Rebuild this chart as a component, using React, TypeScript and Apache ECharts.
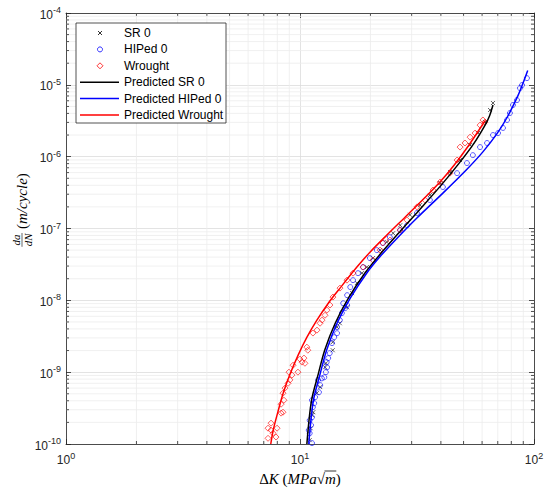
import React, { useEffect, useRef } from "react";
import * as echarts from "echarts";

const X_MIN = 1;
const X_MAX = 100;
const Y_MIN = 1e-10;
const Y_MAX = 1e-4;

const xMinorTicks = [2, 3, 4, 5, 6, 7, 8, 9, 20, 30, 40, 50, 60, 70, 80, 90];
const yDecades = [-10, -9, -8, -7, -6, -5];
const minorMultipliers = [2, 3, 4, 5, 6, 7, 8, 9];

const legendNames = [
  "SR 0",
  "HIPed 0",
  "Wrought",
  "Predicted SR 0",
  "Predicted HIPed 0",
  "Predicted Wrought",
];

// [ΔK (MPa√m), da/dN (m/cycle)]
const sr0Data: [number, number][] = [
  [11.0, 1.13e-10], [11.1, 1.66e-10], [11.25, 2.52e-10], [11.4, 2.77e-10],
  [11.8, 5.1e-10], [12.2, 6.2e-10], [12.8, 1.17e-9], [12.9, 1.33e-9],
  [13.8, 2.02e-9], [13.8, 2.62e-9], [14.4, 4.24e-9], [14.8, 4.8e-9],
  [15.9, 8.0e-9], [16.7, 1.26e-8], [17.5, 1.74e-8], [18.4, 2.39e-8],
  [19.3, 2.9e-8], [20.5, 3.87e-8], [22.0, 5.0e-8], [23.5, 6.47e-8],
  [25.0, 8.6e-8], [26.8, 1.11e-7], [29.5, 1.55e-7], [32.6, 2.12e-7],
  [35.9, 2.92e-7], [39.7, 4.29e-7], [43.8, 6.1e-7], [48.3, 8.97e-7],
  [53.3, 1.45e-6], [57.6, 2.13e-6], [61.8, 3.03e-6], [64.9, 4.46e-6],
  [66.8, 5.58e-6],
];

const hiped0Data: [number, number][] = [
  [11.25, 1.03e-10], [11.0, 1.41e-10], [10.9, 1.56e-10], [11.15, 1.83e-10],
  [11.0, 2.14e-10], [11.25, 2.36e-10], [11.35, 3.26e-10], [11.5, 3.7e-10],
  [11.25, 4.07e-10], [11.6, 4.49e-10], [12.05, 5.26e-10], [12.2, 6.6e-10],
  [11.95, 7.8e-10], [12.4, 8.2e-10], [12.7, 8.5e-10], [12.9, 1.0e-9],
  [13.05, 1.17e-9], [13.0, 1.38e-9], [13.2, 1.57e-9], [13.4, 1.84e-9],
  [13.7, 2.54e-9], [14.0, 3.07e-9], [14.4, 3.49e-9], [14.4, 4.24e-9],
  [14.8, 5.3e-9], [15.1, 6.64e-9], [15.6, 7.8e-9], [15.9, 8.57e-9],
  [15.3, 9.1e-9], [15.9, 1.18e-8], [16.4, 1.53e-8], [16.85, 1.91e-8],
  [17.7, 2.39e-8], [18.6, 2.9e-8], [19.9, 3.87e-8], [21.3, 5.0e-8],
  [22.6, 6.27e-8], [24.2, 7.59e-8], [26.8, 9.5e-8], [28.7, 1.11e-7],
  [31.6, 1.64e-7], [35.9, 2.49e-7], [40.8, 3.78e-7], [46.9, 5.9e-7],
  [51.7, 8.15e-7], [54.8, 1.05e-6], [58.8, 1.36e-6], [63.0, 1.55e-6],
  [66.8, 2.0e-6], [70.2, 2.13e-6], [73.7, 2.51e-6], [76.7, 3.24e-6],
  [78.9, 4.05e-6], [81.3, 5.24e-6], [84.6, 6.14e-6], [87.1, 9.0e-6],
  [88.9, 9.93e-6], [93.3, 1.24e-5],
];

const wroughtData: [number, number][] = [
  [7.3, 1.2e-10], [7.9, 1.25e-10], [7.3, 1.66e-10], [7.98, 1.66e-10],
  [7.52, 1.56e-10], [7.67, 1.41e-10], [7.52, 1.95e-10], [8.3, 2.69e-10],
  [8.46, 2.77e-10], [8.3, 3.58e-10], [8.54, 4.07e-10], [8.46, 5.1e-10],
  [8.63, 6.0e-10], [8.89, 7.0e-10], [9.06, 7.8e-10], [9.24, 9.1e-10],
  [8.97, 1.0e-9], [9.34, 1.25e-9], [9.8, 1.0e-9], [10.0, 1.52e-9],
  [10.2, 1.38e-9], [10.5, 1.33e-9], [10.4, 1.57e-9], [10.7, 2.23e-9],
  [10.8, 2.02e-9], [11.36, 3.5e-9], [11.82, 3.85e-9], [12.18, 4.8e-9],
  [12.42, 5.3e-9], [12.79, 6.2e-9], [13.04, 7.3e-9], [13.43, 8.6e-9],
  [13.83, 1.11e-8], [14.82, 1.48e-8], [15.88, 1.91e-8], [16.85, 2.39e-8],
  [18.59, 2.9e-8], [20.51, 3.63e-8], [21.98, 5.0e-8], [22.6, 6.3e-8],
  [24.24, 6.9e-8], [26.76, 9.5e-8], [28.66, 1.31e-7], [31.62, 2.0e-7],
  [34.2, 2.49e-7], [37.0, 3.43e-7], [39.66, 4.43e-7], [43.75, 5.9e-7],
  [46.9, 8.97e-7], [48.3, 1.36e-6], [50.7, 1.55e-6], [53.3, 1.87e-6],
  [56.0, 2.13e-6], [58.8, 2.75e-6], [60.5, 3.24e-6], [61.75, 3.03e-6],
];

const predSr0: [number, number][] = [
  [10.7, 1.0e-10], [11.19, 3.98e-10], [11.98, 9.55e-10], [12.76, 2.04e-9],
  [14.14, 4.79e-9], [16.1, 1.07e-8], [18.95, 2.4e-8], [22.0, 4.37e-8],
  [26.8, 9.12e-8], [31.6, 1.66e-7], [39.8, 3.89e-7], [47.9, 8.13e-7],
  [55.0, 1.48e-6], [61.8, 2.75e-6], [64.6, 3.72e-6], [66.8, 5.25e-6],
];

const predHiped0: [number, number][] = [
  [10.9, 1.0e-10], [11.4, 3.98e-10], [12.2, 9.55e-10], [13.0, 2.04e-9],
  [14.4, 4.79e-9], [16.4, 1.07e-8], [19.3, 2.4e-8], [22.0, 4.07e-8],
  [26.8, 8.13e-8], [31.6, 1.4e-7], [40.9, 3.13e-7], [51.7, 6.68e-7],
  [60.6, 1.175e-6], [69.5, 2.09e-6], [76.7, 3.51e-6], [85.4, 7.08e-6],
  [89.8, 1.06e-5], [94.0, 1.585e-5],
];

const predWrought: [number, number][] = [
  [7.5, 1.0e-10], [7.69, 1.58e-10], [8.08, 2.95e-10], [8.48, 5.13e-10],
  [9.06, 9.33e-10], [9.83, 1.74e-9], [10.68, 3.02e-9], [11.79, 5.25e-9],
  [13.21, 9.12e-9], [14.83, 1.48e-8], [17.47, 2.88e-8], [19.91, 4.68e-8],
  [23.44, 8.02e-8], [28.18, 1.445e-7], [33.88, 2.61e-7], [39.81, 4.51e-7],
  [45.71, 7.73e-7], [52.48, 1.42e-6], [61.8, 3.16e-6],
];

const AXIS_COLOR = "#262626";
const MAJOR_GRID = "#dcdcdc";
const MINOR_GRID = "#ececec";
const SANS = "Liberation Sans, Arial, sans-serif";
const SERIF = "Liberation Serif, Times New Roman, serif";

function measure(text: string, font: string): number {
  const c = document.createElement("canvas").getContext("2d");
  if (!c) return text.length * 7;
  c.font = font;
  return c.measureText(text).width;
}

export default function App() {
  const ref = useRef<HTMLDivElement>(null);

  useEffect(() => {
    document.body.style.margin = "0";
    if (!ref.current) return;
    const chart = echarts.init(ref.current, null, { renderer: "svg" });

    const yMinorTicks: number[] = [];
    yDecades.forEach((e) =>
      minorMultipliers.forEach((m) =>
        yMinorTicks.push(Number((m * Math.pow(10, e)).toPrecision(3)))
      )
    );

    const powLabel = (v: number) => {
      const e = Math.round(Math.log10(v));
      return `{b|10}{s|${e}}`;
    };
    const labelRich = {
      b: { fontSize: 12, fontFamily: SANS, color: AXIS_COLOR, verticalAlign: "bottom" },
      s: { fontSize: 9, fontFamily: SANS, color: AXIS_COLOR, verticalAlign: "bottom", padding: [0, 0, 6, 0] },
    };

    // ---- legend (drawn as graphics) ----
    const lgX = 76, lgY = 23, lgW = 150, lgH = 100;
    const rowY = (i: number) => 33 + i * 16.4;
    const legendEls: any[] = [
      {
        type: "rect",
        shape: { x: lgX, y: lgY, width: lgW, height: lgH },
        style: { fill: "#fff", stroke: AXIS_COLOR, lineWidth: 0.8 },
        z: 100,
      },
      { type: "line", shape: { x1: 98, y1: rowY(0) - 2, x2: 102, y2: rowY(0) + 2 }, style: { stroke: "#000", lineWidth: 0.8 }, z: 101 },
      { type: "line", shape: { x1: 98, y1: rowY(0) + 2, x2: 102, y2: rowY(0) - 2 }, style: { stroke: "#000", lineWidth: 0.8 }, z: 101 },
      { type: "circle", shape: { cx: 100, cy: rowY(1), r: 2.5 }, style: { fill: "none", stroke: "#0000ff", lineWidth: 0.8 }, z: 101 },
      {
        type: "polygon",
        shape: { points: [[100, rowY(2) - 3], [103, rowY(2)], [100, rowY(2) + 3], [97, rowY(2)]] },
        style: { fill: "none", stroke: "#ff0000", lineWidth: 0.8 },
        z: 101,
      },
      { type: "line", shape: { x1: 80, y1: rowY(3), x2: 119, y2: rowY(3) }, style: { stroke: "#000000", lineWidth: 1.5 }, z: 101 },
      { type: "line", shape: { x1: 80, y1: rowY(4), x2: 119, y2: rowY(4) }, style: { stroke: "#0000ff", lineWidth: 1.5 }, z: 101 },
      { type: "line", shape: { x1: 80, y1: rowY(5), x2: 119, y2: rowY(5) }, style: { stroke: "#ff0000", lineWidth: 1.5 }, z: 101 },
    ];
    legendNames.forEach((n, i) => {
      legendEls.push({
        type: "text",
        x: 124,
        y: rowY(i),
        z: 101,
        style: {
          text: n,
          fontSize: 12,
          fontFamily: SANS,
          fill: "#000",
          textAlign: "left",
          align: "left",
          textVerticalAlign: "middle",
          verticalAlign: "middle",
        },
      });
    });

    // ---- x axis title: ΔK (MPa√m) ----
    const xs = 15;
    const up = `${xs}px ${SERIF}`;
    const it = `italic ${xs}px ${SERIF}`;
    const pieces = [
      { t: "Δ", f: up, italic: false },
      { t: "K", f: it, italic: true },
      { t: " (", f: up, italic: false },
      { t: "MPa", f: it, italic: true },
      { t: "√", f: up, italic: false },
      { t: "m", f: it, italic: true, over: true },
      { t: ")", f: up, italic: false },
    ];
    const widths = pieces.map((p) => measure(p.t, p.f));
    const total = widths.reduce((a, b) => a + b, 0);
    const xCenter = 300, xTitleY = 479;
    let cx = xCenter - total / 2;
    const xTitleEls: any[] = [];
    pieces.forEach((p, i) => {
      xTitleEls.push({
        type: "text",
        x: cx,
        y: xTitleY,
        style: {
          text: p.t,
          fontSize: xs,
          fontFamily: SERIF,
          fontStyle: p.italic ? "italic" : "normal",
          fill: "#000",
          textAlign: "left",
          align: "left",
          textVerticalAlign: "middle",
          verticalAlign: "middle",
        },
      });
      if ((p as any).over) {
        xTitleEls.push({
          type: "line",
          shape: { x1: cx - 0.5, y1: xTitleY - 8, x2: cx + widths[i] + 0.5, y2: xTitleY - 8 },
          style: { stroke: "#000", lineWidth: 0.8 },
        });
      }
      cx += widths[i];
    });

    // ---- y axis title: (da/dN) (m/cycle), rotated ----
    const fs = 11;
    const ms = 15;
    const fracW = Math.max(measure("da", `italic ${fs}px ${SERIF}`), measure("dN", `italic ${fs}px ${SERIF}`)) + 1;
    const w1 = measure("(", `${ms}px ${SERIF}`);
    const w2 = measure("m/cycle", `italic ${ms}px ${SERIF}`);
    const w3 = measure(")", `${ms}px ${SERIF}`);
    const gap = 4;
    const yTot = fracW + gap + w1 + w2 + w3;
    const s0 = -yTot / 2;
    const fc = s0 + fracW / 2;
    const t0 = s0 + fracW + gap;
    const yTitleGroup = {
      type: "group",
      x: 22,
      y: 210,
      rotation: Math.PI / 2,
      children: [
        {
          type: "text", x: fc, y: -0.5,
          style: { text: "da", fontSize: fs, fontFamily: SERIF, fontStyle: "italic", fill: "#000", textAlign: "center", align: "center", textVerticalAlign: "bottom", verticalAlign: "bottom" },
        },
        { type: "line", shape: { x1: s0, y1: 0, x2: s0 + fracW, y2: 0 }, style: { stroke: "#000", lineWidth: 0.6 } },
        {
          type: "text", x: fc, y: 0.8,
          style: { text: "dN", fontSize: fs, fontFamily: SERIF, fontStyle: "italic", fill: "#000", textAlign: "center", align: "center", textVerticalAlign: "top", verticalAlign: "top" },
        },
        {
          type: "text", x: t0, y: 0,
          style: { text: "(", fontSize: ms, fontFamily: SERIF, fill: "#000", textAlign: "left", align: "left", textVerticalAlign: "middle", verticalAlign: "middle" },
        },
        {
          type: "text", x: t0 + w1, y: 0,
          style: { text: "m/cycle", fontSize: ms, fontFamily: SERIF, fontStyle: "italic", fill: "#000", textAlign: "left", align: "left", textVerticalAlign: "middle", verticalAlign: "middle" },
        },
        {
          type: "text", x: t0 + w1 + w2, y: 0,
          style: { text: ")", fontSize: ms, fontFamily: SERIF, fill: "#000", textAlign: "left", align: "left", textVerticalAlign: "middle", verticalAlign: "middle" },
        },
      ],
    };

    const markerX = "path://M0,0L10,10M10,0L0,10";
    const axisLine = { show: true, onZero: false, lineStyle: { color: AXIS_COLOR, width: 0.8 } };
    const axisTick = { show: true, inside: true, length: 5, lineStyle: { color: AXIS_COLOR, width: 0.8 } };

    const lineSeries = (name: string, data: [number, number][], color: string) => ({
      name,
      type: "line",
      data,
      symbol: "none",
      showSymbol: false,
      smooth: 0.3,
      z: 4,
      lineStyle: { color, width: 1.5 },
    });

    const option: any = {
      animation: false,
      backgroundColor: "#ffffff",
      grid: { left: 66, right: 16, top: 13, bottom: 48, containLabel: false },
      xAxis: [
        {
          type: "log", logBase: 10, min: X_MIN, max: X_MAX, position: "bottom",
          axisLine, axisTick,
          axisLabel: { margin: 7, formatter: powLabel, rich: labelRich },
          splitLine: { show: true, lineStyle: { color: MAJOR_GRID, width: 0.8 } },
        },
        {
          type: "log", logBase: 10, min: X_MIN, max: X_MAX, position: "top",
          axisLine, axisTick,
          axisLabel: { show: false },
          splitLine: { show: false },
        },
      ],
      yAxis: [
        {
          type: "log", logBase: 10, min: Y_MIN, max: Y_MAX, position: "left",
          axisLine, axisTick,
          axisLabel: { margin: 5, formatter: powLabel, rich: labelRich },
          splitLine: { show: true, lineStyle: { color: MAJOR_GRID, width: 0.8 } },
        },
        {
          type: "log", logBase: 10, min: Y_MIN, max: Y_MAX, position: "right",
          axisLine, axisTick,
          axisLabel: { show: false },
          splitLine: { show: false },
        },
      ],
      series: [
        {
          type: "custom",
          silent: true,
          z: 1,
          clip: false,
          data: xMinorTicks.map((v) => [v, Y_MIN]),
          renderItem: (_p: any, api: any) => {
            const v = api.value(0);
            const b = api.coord([v, Y_MIN]);
            const t = api.coord([v, Y_MAX]);
            return {
              type: "group",
              children: [
                { type: "line", shape: { x1: b[0], y1: b[1], x2: t[0], y2: t[1] }, style: { stroke: MINOR_GRID, lineWidth: 0.8 } },
                { type: "line", shape: { x1: b[0], y1: b[1], x2: b[0], y2: b[1] - 3 }, style: { stroke: AXIS_COLOR, lineWidth: 0.8 } },
                { type: "line", shape: { x1: t[0], y1: t[1], x2: t[0], y2: t[1] + 3 }, style: { stroke: AXIS_COLOR, lineWidth: 0.8 } },
              ],
            };
          },
        },
        {
          type: "custom",
          silent: true,
          z: 1,
          clip: false,
          data: yMinorTicks.map((v) => [X_MIN, v]),
          renderItem: (_p: any, api: any) => {
            const v = api.value(1);
            const l = api.coord([X_MIN, v]);
            const r = api.coord([X_MAX, v]);
            return {
              type: "group",
              children: [
                { type: "line", shape: { x1: l[0], y1: l[1], x2: r[0], y2: r[1] }, style: { stroke: MINOR_GRID, lineWidth: 0.8 } },
                { type: "line", shape: { x1: l[0], y1: l[1], x2: l[0] + 3, y2: l[1] }, style: { stroke: AXIS_COLOR, lineWidth: 0.8 } },
                { type: "line", shape: { x1: r[0], y1: r[1], x2: r[0] - 3, y2: r[1] }, style: { stroke: AXIS_COLOR, lineWidth: 0.8 } },
              ],
            };
          },
        },
        {
          name: legendNames[0],
          type: "scatter",
          data: sr0Data,
          symbol: markerX,
          symbolSize: 4,
          z: 3,
          itemStyle: { color: "rgba(0,0,0,0)", borderColor: "#000000", borderWidth: 0.8 },
        },
        {
          name: legendNames[1],
          type: "scatter",
          data: hiped0Data,
          symbol: "circle",
          symbolSize: 5,
          z: 3,
          itemStyle: { color: "rgba(0,0,0,0)", borderColor: "#0000ff", borderWidth: 0.8 },
        },
        {
          name: legendNames[2],
          type: "scatter",
          data: wroughtData,
          symbol: "diamond",
          symbolSize: [6, 6],
          z: 3,
          itemStyle: { color: "rgba(0,0,0,0)", borderColor: "#ff0000", borderWidth: 0.8 },
        },
        lineSeries(legendNames[3], predSr0, "#000000"),
        lineSeries(legendNames[4], predHiped0, "#0000ff"),
        lineSeries(legendNames[5], predWrought, "#ff0000"),
      ],
      graphic: [...legendEls, ...xTitleEls, yTitleGroup],
    };

    chart.setOption(option);
    return () => chart.dispose();
  }, []);

  return <div ref={ref} style={{ width: 550, height: 492 }} />;
}
